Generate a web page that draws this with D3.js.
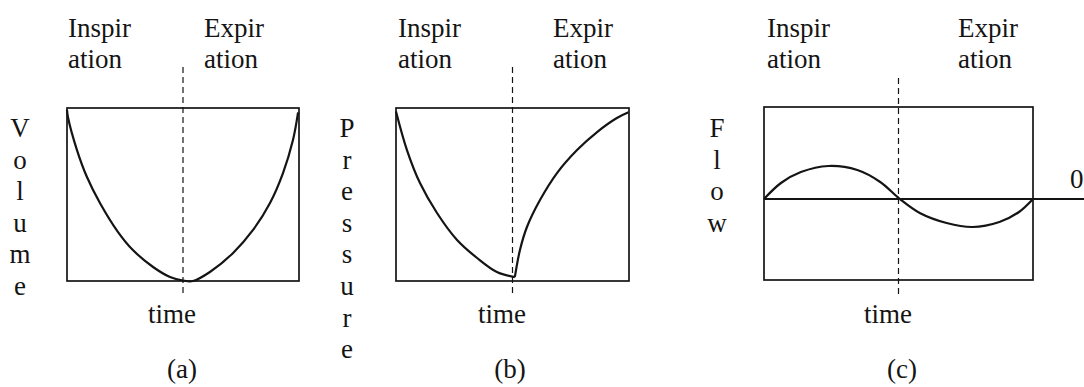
<!DOCTYPE html>
<html>
<head>
<meta charset="utf-8">
<script src="https://cdn.jsdelivr.net/npm/d3@7"></script>
<style>
  html, body { margin: 0; padding: 0; background: #fff; }
  svg { display: block; }
  text { font-family: "Liberation Serif", "Times New Roman", serif; fill: #141414; }
</style>
</head>
<body>
<svg id="chart" width="1084" height="387"></svg>
<script>
// Phase captions over each panel, split over two lines
const phaseLabels = [["Inspir", "ation"], ["Expir", "ation"]];
const axisLabels = ["Volume", "Pressure", "Flow"];
const panelTags = ["(a)", "(b)", "(c)"];
const timeLabel = "time";
const zeroLabel = "0";

// Normalised time across one breath (0 = start of inspiration, 1 = end of expiration)
const phaseBoundary = 0.5;

// (a) lung volume over the breath
const volumeTime   = [0, 0.004, 0.043, 0.086, 0.142, 0.220, 0.284, 0.371, 0.444, 0.500, 0.543, 0.616, 0.716, 0.802, 0.875, 0.931, 0.974, 0.996];
const volumeValues = [0.99, 0.948, 0.757, 0.601, 0.451, 0.283, 0.179, 0.081, 0.023, 0.003, 0.0, 0.052, 0.162, 0.295, 0.451, 0.624, 0.815, 0.975];

// (b) pressure, inspiration branch then expiration branch
const pressureInspTime   = [0, 0.047, 0.103, 0.176, 0.262, 0.348, 0.433, 0.510];
const pressureInspValues = [0.98, 0.757, 0.566, 0.393, 0.237, 0.133, 0.052, 0.022];
const pressureExpTime    = [0.510, 0.532, 0.562, 0.618, 0.691, 0.777, 0.863, 0.948, 0.998];
const pressureExpValues  = [0.022, 0.179, 0.312, 0.468, 0.624, 0.757, 0.861, 0.942, 0.975];

// (c) airflow, positive during inspiration, negative during expiration
const flowTime   = [0, 0.063, 0.137, 0.240, 0.347, 0.432, 0.505, 0.579, 0.679, 0.775, 0.875, 0.948, 1.0];
const flowValues = [0, 0.174, 0.293, 0.359, 0.315, 0.185, 0.0, -0.152, -0.261, -0.304, -0.250, -0.141, 0.0];

const svg = d3.select("#chart");
const W = 1084;
const ink = "#141414";
const fontSize = 27;
const letterStep = 31.6;

const panels = [
  { left: 67,  right: 299,  top: 108, bottom: 281, yDomain: [0, 1],
    dashTop: 67, dashBottom: 296, phaseX: [68, 204], timeX: 172, tagX: 182,
    axisX: 20, series: [{ t: volumeTime, v: volumeValues }] },
  { left: 396, right: 629,  top: 108, bottom: 281, yDomain: [0, 1],
    dashTop: 67, dashBottom: 296, phaseX: [398, 553], timeX: 502, tagX: 510,
    axisX: 347, series: [{ t: pressureInspTime, v: pressureInspValues },
                         { t: pressureExpTime,  v: pressureExpValues }] },
  { left: 764, right: 1033, top: 107, bottom: 280, yDomain: [-0.88, 1],
    dashTop: 78, dashBottom: 298, phaseX: [767, 958], timeX: 888, tagX: 902,
    axisX: 717, series: [{ t: flowTime, v: flowValues }], zero: true }
];

panels.forEach((p, i) => {
  const x = d3.scaleLinear().domain([0, 1]).range([p.left, p.right]);
  const y = d3.scaleLinear().domain(p.yDomain).range([p.bottom, p.top]);
  const g = svg.append("g");

  // frame
  g.append("rect")
    .attr("x", p.left).attr("y", p.top)
    .attr("width", p.right - p.left).attr("height", p.bottom - p.top)
    .attr("fill", "none").attr("stroke", ink).attr("stroke-width", 1.7);

  // zero-flow reference line running out to the right edge
  if (p.zero) {
    g.append("line")
      .attr("x1", p.left).attr("x2", W)
      .attr("y1", y(0)).attr("y2", y(0))
      .attr("stroke", ink).attr("stroke-width", 1.8);
    g.append("text")
      .attr("x", 1070).attr("y", y(0) - 11)
      .attr("font-size", fontSize)
      .text(zeroLabel);
  }

  // inspiration / expiration boundary
  g.append("line")
    .attr("x1", x(phaseBoundary)).attr("x2", x(phaseBoundary))
    .attr("y1", p.dashTop).attr("y2", p.dashBottom)
    .attr("stroke", ink).attr("stroke-width", 1.2)
    .attr("stroke-dasharray", "6,4");

  // curves
  const line = d3.line()
    .x(d => x(d[0])).y(d => y(d[1]))
    .curve(d3.curveCatmullRom.alpha(0.5));
  p.series.forEach(s => {
    const pts = s.t.map((t, k) => [t, s.v[k]]);
    g.append("path")
      .attr("d", line(pts))
      .attr("fill", "none").attr("stroke", ink)
      .attr("stroke-width", 2.2).attr("stroke-linejoin", "round");
  });

  // phase captions
  phaseLabels.forEach((lines, j) => {
    lines.forEach((txt, k) => {
      g.append("text")
        .attr("x", p.phaseX[j]).attr("y", 37 + k * 31)
        .attr("font-size", fontSize)
        .text(txt);
    });
  });

  // vertical axis name, one letter per row
  Array.from(axisLabels[i]).forEach((ch, k) => {
    g.append("text")
      .attr("x", p.axisX).attr("y", 137 + k * letterStep)
      .attr("text-anchor", "middle")
      .attr("font-size", fontSize)
      .text(ch);
  });

  // time label and panel tag
  g.append("text")
    .attr("x", p.timeX).attr("y", 323)
    .attr("text-anchor", "middle").attr("font-size", fontSize)
    .text(timeLabel);
  g.append("text")
    .attr("x", p.tagX).attr("y", 378)
    .attr("text-anchor", "middle").attr("font-size", fontSize)
    .text(panelTags[i]);
});
</script>
</body>
</html>
